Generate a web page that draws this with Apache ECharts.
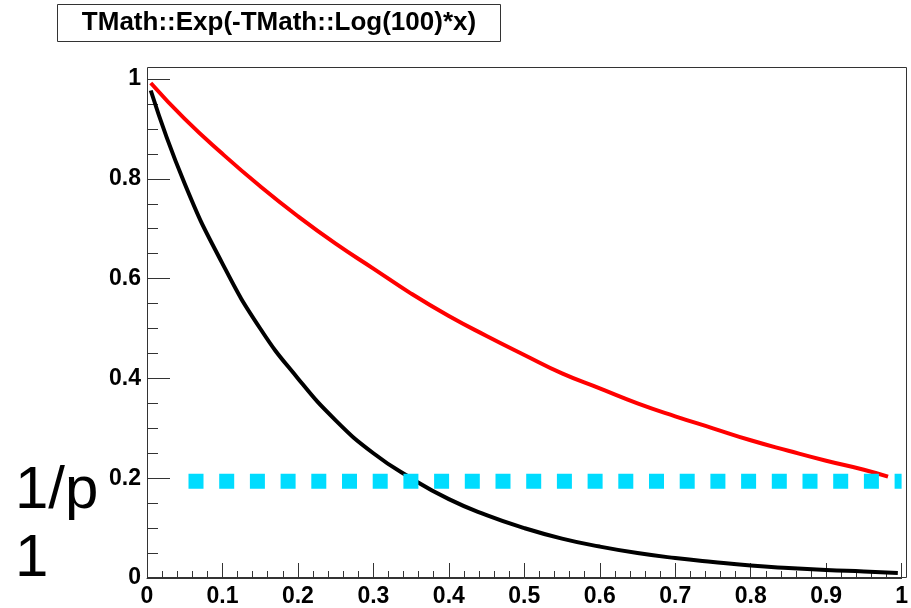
<!DOCTYPE html>
<html lang="en">
  <head>
    <meta charset="UTF-8" />
    <title>TMath::Exp</title>
    <script src="https://cdn.jsdelivr.net/npm/echarts@6/dist/echarts.min.js"></script>
    <style>
      html, body { margin: 0; padding: 0; background: #fff; }
      .box { width: 911px; height: 608px; }
    </style>
  </head>
  <body>
    <div class="box"></div>
    <script>
      // 读取的曲线数据
      var blackX = [0.005, 0.05, 0.1, 0.15, 0.2, 0.25, 0.3, 0.35, 0.4, 0.45, 0.5, 0.55, 0.6, 0.65, 0.7, 0.75, 0.8, 0.85, 0.9, 0.95, 0.995];
      var blackY = [0.977, 0.79, 0.63, 0.5, 0.4, 0.316, 0.25, 0.2, 0.158, 0.126, 0.1, 0.079, 0.063, 0.05, 0.04, 0.032, 0.025, 0.02, 0.016, 0.013, 0.01];
      var redX = [0.005, 0.05, 0.1, 0.15, 0.2, 0.25, 0.3, 0.35, 0.4, 0.45, 0.5, 0.55, 0.6, 0.65, 0.7, 0.75, 0.8, 0.85, 0.9, 0.95, 0.982];
      var redY = [0.992, 0.92, 0.85, 0.785, 0.725, 0.67, 0.62, 0.57, 0.525, 0.485, 0.447, 0.41, 0.38, 0.35, 0.324, 0.3, 0.276, 0.255, 0.235, 0.217, 0.203];
      var cyanX = [0.055, 1.0];
      var cyanY = [0.194, 0.194];
      var titleText = "TMath::Exp(-TMath::Log(100)*x)";

      function pairs(xs, ys) {
        var out = [];
        for (var i = 0; i < xs.length; i++) out.push([xs[i], ys[i]]);
        return out;
      }

      var box = document.getElementsByClassName("box")[0];
      var chart = echarts.init(box);

      var labelFont = {
        fontFamily: "Liberation Sans",
        fontWeight: "bold",
        fontSize: 23,
        color: "#000",
      };

      chart.setOption({
        animation: false,
        grid: {
          left: 147,
          right: 4,
          top: 79,
          bottom: 30,
        },
        xAxis: {
          type: "value",
          min: 0,
          max: 1,
          interval: 0.1,
          axisLine: { lineStyle: { color: "#333", width: 1 } },
          axisTick: { inside: true, length: 15, lineStyle: { color: "#333" } },
          minorTick: { show: true, splitNumber: 5, length: 7, lineStyle: { color: "#333" } },
          splitLine: { show: false },
          axisLabel: Object.assign({ margin: 7 }, labelFont),
        },
        yAxis: {
          type: "value",
          min: 0,
          max: 1,
          interval: 0.2,
          axisLine: { show: true, lineStyle: { color: "#333", width: 1 } },
          axisTick: { show: true, inside: true, length: 23, lineStyle: { color: "#333" } },
          minorTick: { show: true, splitNumber: 4, length: 11, lineStyle: { color: "#333" } },
          splitLine: { show: false },
          axisLabel: Object.assign({ margin: 6 }, labelFont),
        },
        series: [
          {
            type: "line",
            data: pairs(redX, redY),
            smooth: true,
            showSymbol: false,
            lineStyle: { color: "#ff0000", width: 4 },
          },
          {
            type: "line",
            data: pairs(blackX, blackY),
            smooth: true,
            showSymbol: false,
            lineStyle: { color: "#000", width: 4 },
          },
          {
            type: "line",
            data: pairs(cyanX, cyanY),
            showSymbol: false,
            clip: false,
            lineStyle: { color: "#00dcff", width: 15, type: [15, 15.7], cap: "butt" },
          },
        ],
        graphic: [
          // 外框
          {
            type: "rect",
            shape: { x: 147.5, y: 67.5, width: 759, height: 510 },
            style: { fill: null, stroke: "#333", lineWidth: 1 },
            z: -1,
          },
          {
            type: "rect",
            shape: { x: 57.5, y: 4.5, width: 443, height: 37 },
            style: { fill: "#fff", stroke: "#333", lineWidth: 1 },
          },
          {
            type: "text",
            x: 279,
            y: 23,
            style: {
              text: titleText,
              font: "bold 26px 'Liberation Sans'",
              fill: "#000",
              align: "center",
              verticalAlign: "middle",
            },
          },
          {
            type: "text",
            x: 15,
            y: 461,
            style: { text: "1/p", font: "60px 'Liberation Sans'", fill: "#000", verticalAlign: "top" },
          },
          {
            type: "text",
            x: 15,
            y: 529,
            style: { text: "1", font: "60px 'Liberation Sans'", fill: "#000", verticalAlign: "top" },
          },
        ],
      });
    </script>
  </body>
</html>
